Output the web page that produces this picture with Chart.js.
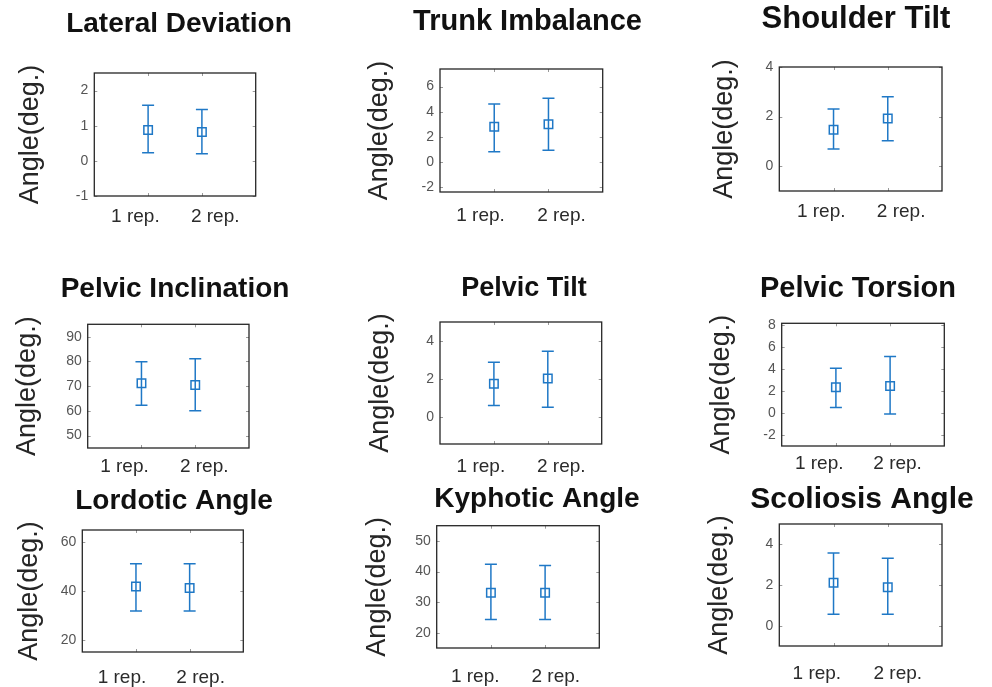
<!DOCTYPE html>
<html>
<head>
<meta charset="utf-8">
<title>Posture angles: 1 rep. vs 2 rep.</title>
<script src="https://cdn.jsdelivr.net/npm/chart.js@4.4.1/dist/chart.umd.min.js"></script>
<style>
  html, body { margin: 0; padding: 0; background: #fff; overflow: hidden; }
  #stage { position: relative; width: 992px; height: 687px; overflow: hidden; }
  #stage canvas { position: absolute; }
</style>
</head>
<body>
<div id="stage"></div>
<script>
// --- data ---
const panelTitles = [
    'Lateral Deviation', 'Trunk Imbalance', 'Shoulder Tilt',
    'Pelvic Inclination', 'Pelvic Tilt', 'Pelvic Torsion',
    'Lordotic Angle', 'Kyphotic Angle', 'Scoliosis Angle'
];
const categories = ['1 rep.', '2 rep.'];
const yAxisLabel = 'Angle(deg.)';

const meanValues = [
    [0.88, 0.82], [2.80, 2.99], [1.47, 1.92],
    [71.2, 70.5], [1.76, 2.04], [2.36, 2.48],
    [41.8, 41.2], [33.1, 33.1], [2.11, 1.89]
];
const lowerValues = [
    [0.23, 0.20], [0.80, 0.93], [0.69, 1.03],
    [62.3, 60.1], [0.62, 0.53], [0.52, -0.09],
    [31.8, 31.8], [24.3, 24.3], [0.56, 0.56]
];
const upperValues = [
    [1.58, 1.46], [4.61, 5.07], [2.31, 2.80],
    [79.9, 81.1], [2.89, 3.47], [4.09, 5.18],
    [51.2, 51.2], [42.4, 42.0], [3.57, 3.31]
];
const yTickValues = [
    [-1, 0, 1, 2], [-2, 0, 2, 4, 6], [0, 2, 4],
    [50, 60, 70, 80, 90], [0, 2, 4], [-2, 0, 2, 4, 6, 8],
    [20, 40, 60], [20, 30, 40, 50], [0, 2, 4]
];
const yLimits = [
    [-1, 2.5], [-2.4, 7.4], [-1, 4],
    [45, 95], [-1.4, 5], [-3, 8.2],
    [15, 65], [15, 55], [-1, 5]
];

// --- where each panel sits on the page (px) ---
// l/t/r/b = plot box, titleX/titleY = title centre, labelX = y label centre,
// gap = plot bottom to x label centre, shift = x label offset from its tick
const panelLayout = [
    { l: 94.3, t: 73, r: 255.7, b: 196, titleX: 179, titleY: 22.5, labelX: 30, gap: 19.5, titleSize: 28, shift: [-12.7, 13.3] },
    { l: 440, t: 69, r: 602.7, b: 191.7, titleX: 527.5, titleY: 21.3, labelX: 379, gap: 22.5, titleSize: 29, shift: [-13.7, 13] },
    { l: 779.3, t: 67, r: 942, b: 190.7, titleX: 856, titleY: 18.3, labelX: 724, gap: 20, titleSize: 31, shift: [-12.3, 13.4] },
    { l: 87.7, t: 324.3, r: 249, b: 448.3, titleX: 175, titleY: 287.5, labelX: 26.7, gap: 18, titleSize: 28, shift: [-17, 9] },
    { l: 440, t: 322, r: 601.7, b: 444.3, titleX: 524, titleY: 287.3, labelX: 380, gap: 22, titleSize: 27, shift: [-13, 13.5] },
    { l: 781.7, t: 323.3, r: 944.3, b: 446, titleX: 858, titleY: 287.5, labelX: 721, gap: 16.5, titleSize: 29, shift: [-16.7, 7.5] },
    { l: 82.3, t: 530, r: 243.3, b: 652.3, titleX: 174, titleY: 499.5, labelX: 29, gap: 25, titleSize: 28, shift: [-14, 11] },
    { l: 436.7, t: 525.7, r: 599.3, b: 648.3, titleX: 537, titleY: 497, labelX: 377.5, gap: 27.5, titleSize: 28, shift: [-15.7, 10.7] },
    { l: 779.3, t: 524, r: 942, b: 646, titleX: 862, titleY: 498.5, labelX: 719, gap: 27, titleSize: 30, shift: [-16.7, 10] }
];

const BLUE = '#1f78c6';
const FONT = "'Liberation Sans', Arial, Helvetica, sans-serif";
const Y_LABEL_SIZE = 27;
const X_TICK_SIZE = 19;
const BOTTOM_H = 50;

// MATLAB-like box with small inward tick marks
const boxPlugin = {
    id: 'matlabBox',
    afterDatasetsDraw(chart) {
        const { ctx, chartArea: a, scales } = chart;
        ctx.save();
        ctx.strokeStyle = '#9a9a9a';
        ctx.lineWidth = 1;
        ctx.beginPath();
        scales.y.ticks.forEach(t => {
            const py = Math.round(scales.y.getPixelForValue(t.value)) + 0.5;
            ctx.moveTo(a.left, py); ctx.lineTo(a.left + 3, py);
            ctx.moveTo(a.right, py); ctx.lineTo(a.right - 3, py);
        });
        categories.forEach((c, i) => {
            const px = Math.round(scales.x.getPixelForValue(i + 1)) + 0.5;
            ctx.moveTo(px, a.top); ctx.lineTo(px, a.top + 3);
            ctx.moveTo(px, a.bottom); ctx.lineTo(px, a.bottom - 3);
        });
        ctx.stroke();
        ctx.strokeStyle = '#262626';
        ctx.lineWidth = 1.3;
        ctx.strokeRect(a.left, a.top, a.right - a.left, a.bottom - a.top);
        ctx.restore();
    }
};

const stage = document.getElementById('stage');

panelTitles.forEach((title, k) => {
    const p = panelLayout[k];
    const yLabelLine = Y_LABEL_SIZE * 1.2;
    const titleLine = p.titleSize * 1.2;

    const left = Math.round(p.labelX - yLabelLine / 2);
    const right = Math.round(2 * p.titleX - left);
    const top = Math.round(p.titleY + 0.05 * p.titleSize - titleLine / 2);
    const width = right - left;
    const height = Math.round(p.b + BOTTOM_H - top);

    const leftW = p.l - left;          // y label + tick labels
    const rightW = right - p.r;        // spacer so the title centres where it should
    const titleGap = (p.t - top) - titleLine;
    const xMax = categories.length + 1;
    const unitsPerPx = xMax / (p.r - p.l);

    const canvas = document.createElement('canvas');
    canvas.width = width;
    canvas.height = height;
    canvas.style.left = left + 'px';
    canvas.style.top = top + 'px';
    canvas.style.width = width + 'px';
    canvas.style.height = height + 'px';
    stage.appendChild(canvas);

    const means = meanValues[k], lows = lowerValues[k], highs = upperValues[k];

    const errorBars = categories.map((c, i) => ({
        label: c + ' range',
        data: [{ x: i + 1, y: lows[i] }, { x: i + 1, y: highs[i] }],
        showLine: true,
        borderColor: BLUE,
        borderWidth: 1.5,
        pointStyle: 'line',
        pointRadius: 6,
        pointBorderColor: BLUE,
        pointBorderWidth: 1.5,
        xAxisID: 'x',
        yAxisID: 'y'
    }));

    const meanSet = {
        label: 'mean',
        data: categories.map((c, i) => ({ x: i + 1, y: means[i] })),
        pointStyle: 'rect',
        pointRadius: 6,
        pointBackgroundColor: 'rgba(0,0,0,0)',
        pointBorderColor: BLUE,
        pointBorderWidth: 1.5,
        xAxisID: 'x',
        yAxisID: 'y'
    };

    new Chart(canvas, {
        type: 'scatter',
        data: { datasets: [meanSet, ...errorBars] },
        options: {
            responsive: false,
            animation: false,
            events: [],
            layout: { padding: 0 },
            plugins: {
                legend: { display: false },
                tooltip: { enabled: false },
                title: {
                    display: true,
                    text: title,
                    color: '#111',
                    font: { family: FONT, size: p.titleSize, weight: 'bold' },
                    padding: { top: 0, bottom: titleGap }
                }
            },
            scales: {
                x: {
                    type: 'linear',
                    position: 'bottom',
                    min: 0,
                    max: xMax,
                    grid: { display: false, drawTicks: false },
                    border: { display: false },
                    // the labels in the figure sit a little outside their tick marks
                    afterBuildTicks: s => {
                        s.ticks = categories.map((c, i) => ({ value: i + 1 + p.shift[i] * unitsPerPx }));
                    },
                    afterFit: s => { s.height = BOTTOM_H; },
                    ticks: {
                        autoSkip: false,
                        maxRotation: 0,
                        padding: p.gap + 1 - X_TICK_SIZE * 0.6,
                        color: '#2b2b2b',
                        font: { family: FONT, size: X_TICK_SIZE },
                        callback: (v, i) => categories[i]
                    }
                },
                y: {
                    type: 'linear',
                    position: 'left',
                    min: yLimits[k][0],
                    max: yLimits[k][1],
                    grid: { display: false, drawTicks: false },
                    border: { display: false },
                    afterBuildTicks: s => { s.ticks = yTickValues[k].map(v => ({ value: v })); },
                    afterFit: s => { s.width = leftW; },
                    ticks: {
                        padding: 6,
                        color: '#555',
                        font: { family: FONT, size: 14 }
                    },
                    title: {
                        display: true,
                        text: yAxisLabel,
                        color: '#262626',
                        padding: 0,
                        font: { family: FONT, size: Y_LABEL_SIZE }
                    }
                },
                yR: {
                    type: 'linear',
                    position: 'right',
                    grid: { display: false, drawTicks: false },
                    border: { display: false },
                    ticks: { display: false },
                    afterFit: s => { s.width = rightW; }
                }
            }
        },
        plugins: [boxPlugin]
    });
});
</script>
</body>
</html>
